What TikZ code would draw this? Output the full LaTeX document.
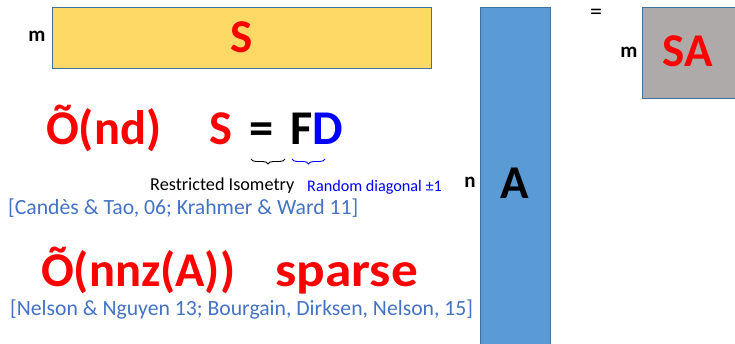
\documentclass[tikz,border=0pt]{standalone}
\usepackage{fontspec}
\setmainfont{Carlito}
\usepackage{xcolor}
\usetikzlibrary{positioning,decorations.pathreplacing}

\definecolor{sgold}{HTML}{FFD966}
\definecolor{ablue}{HTML}{5B9BD5}
\definecolor{sagray}{HTML}{AEAAAA}
\definecolor{edgeblue}{HTML}{41719C}
\definecolor{citeblue}{HTML}{4472C4}

\begin{document}
\begin{tikzpicture}[
    x=1pt, y=-1pt,
    matbox/.style={rectangle, draw=edgeblue, line width=0.8pt, inner sep=0pt, outer sep=0pt, anchor=north west},
    matname/.style={font=\fontsize{47}{54}\selectfont\bfseries, inner sep=0pt},
    dimlabel/.style={font=\fontsize{21}{25}\selectfont\bfseries, inner sep=0pt},
    bigtext/.style={font=\fontsize{48.5}{56}\selectfont\bfseries, inner sep=0pt, anchor=base west},
    note/.style={inner sep=0pt, anchor=base west},
    cite/.style={font=\fontsize{21.7}{26}\selectfont, text=citeblue, inner sep=0pt, anchor=base west},
    bracket/.style={decorate, decoration={brace, mirror, amplitude=5pt}, line width=0.9pt}
]
    \useasboundingbox (0,0) rectangle (735,344);

    % Sketch matrix S
    \node [matbox, fill=sgold, minimum width=379, minimum height=61] (sbox) at (52,7) {};
    \node [matname, text=red] (sname) at (sbox.center) {S};
    \node [dimlabel] (sm) at (37,36) {m};

    % Data matrix A
    \node [matbox, fill=ablue, minimum width=70, minimum height=345] (abox) at (480,7) {};
    \node [matname] (aname) at (515,183) {A};
    \node [dimlabel] (an) at (470,182) {n};

    % Product SA
    \node [font=\fontsize{24}{28}\selectfont, inner sep=0pt] (equals) at (596,14) {=};
    \node [matbox, fill=sagray, minimum width=96, minimum height=91] (sabox) at (642,7) {};
    \node [matname, text=red] (saname) at (688,51) {SA};
    \node [dimlabel] (sam) at (629,52) {m};

    % Fast JL: S = FD
    \node [bigtext, text=red] (ond) at (46,145) {Õ(nd)};
    \node [bigtext, text=red] (slhs) at (209,145) {S};
    \node [bigtext] (eq) at (249,145) {=};
    \node [bigtext] (fd) at (290,145) {F\textcolor{blue}{D}};

    \coordinate (ribl) at (251,159);
    \coordinate (ribr) at (285,159);
    \coordinate (rdbl) at (292,159);
    \coordinate (rdbr) at (325,159);
    \draw [bracket] (ribl) -- (ribr);
    \draw [bracket, draw=blue] (rdbl) -- (rdbr);

    \node [note, font=\fontsize{18.2}{22}\selectfont] (rip) at (150,191) {Restricted Isometry};
    \node [note, font=\fontsize{16.2}{19}\selectfont, text=blue] (rdiag) at (307,191.5) {Random diagonal ±1};
    \node [cite] (cite1) at (8,215) {[Candès \& Tao, 06; Krahmer \& Ward 11]};

    % Sparse embeddings
    \node [bigtext, text=red] (onnz) at (41,287) {Õ(nnz(A))};
    \node [bigtext, text=red] (sparse) at (275,287) {\scalebox{1.1}[1]{sparse}};
    \node [cite] (cite2) at (10,315) {[Nelson \& Nguyen 13; Bourgain, Dirksen, Nelson, 15]};

\end{tikzpicture}
\end{document}
